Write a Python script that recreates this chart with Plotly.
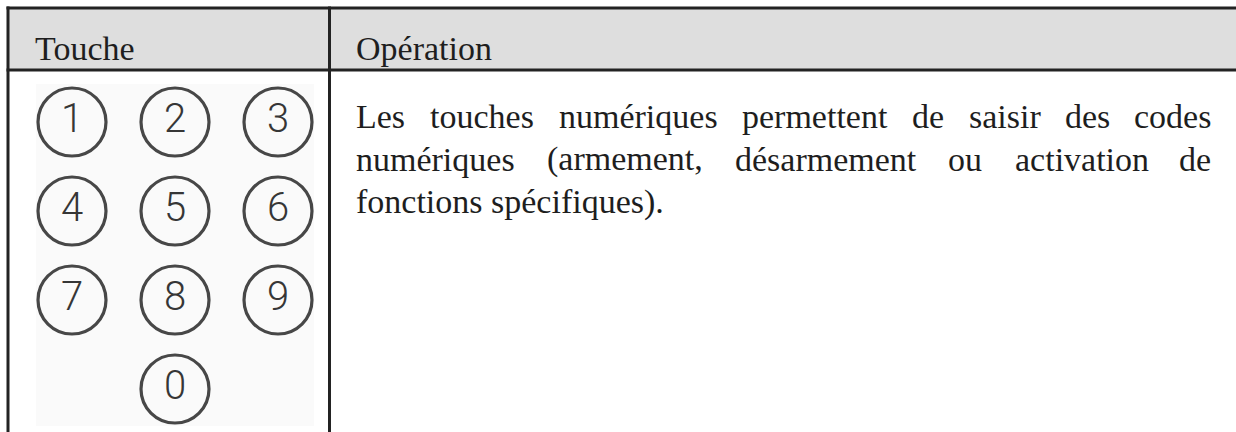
import plotly.graph_objects as go

# ---------------- data ----------------
headers = ["Touche", "Opération"]
keys = ["1", "2", "3", "4", "5", "6", "7", "8", "9", "0"]
key_rows = [0, 0, 0, 1, 1, 1, 2, 2, 2, 3]
key_cols = [0, 1, 2, 0, 1, 2, 0, 1, 2, 1]
body_lines = [
    "Les touches numériques permettent de saisir des codes",
    "numériques (armement, désarmement ou activation de",
    "fonctions spécifiques).",
]
justified = [True, True, False]

# ---------------- layout constants ----------------
W, H = 1236, 432
BORDER = "#232323"
HEAD_FILL = "#dedede"
TXT = "#1e1e1e"
SERIF = "Liberation Serif, Times New Roman, serif"
FS = 34
COL_X = 72
COL_DX = 103
ROW_Y = 122
ROW_DY = 89
TEXT_L = 355
TEXT_R = 1212
BASE0 = 128
LINE_DY = 42.5
HEAD_BASE = 60

# Times/Liberation Serif advance widths (1/1000 em)
TW = {
    'a': 444, 'b': 500, 'c': 444, 'd': 500, 'e': 444, 'f': 333, 'g': 500, 'h': 500,
    'i': 278, 'j': 278, 'k': 500, 'l': 278, 'm': 778, 'n': 500, 'o': 500, 'p': 500,
    'q': 500, 'r': 333, 's': 389, 't': 278, 'u': 500, 'v': 500, 'w': 722, 'x': 500,
    'y': 500, 'z': 444, 'é': 444, 'L': 611, 'T': 611, 'O': 722, '(': 333, ')': 333,
    ',': 250, '.': 250, ' ': 250,
}


def text_width(s, fs):
    return sum(TW.get(ch, 500) for ch in s) / 1000.0 * fs


def mid_from_base(base, fs):
    # centre of the text bbox relative to baseline (ascent .891, descent .216)
    return base - (0.891 - 0.216) / 2 * fs


fig = go.Figure()

shapes = []
# keypad image background (very light)
shapes.append(dict(type="rect", x0=36, x1=314, y0=84, y1=426, fillcolor="#fafafa",
                   line=dict(width=0), layer="below"))
# header band
shapes.append(dict(type="rect", x0=8, x1=W + 5, y0=8, y1=70, fillcolor=HEAD_FILL,
                   line=dict(width=0), layer="below"))
# borders
shapes.append(dict(type="line", x0=6.5, x1=W + 5, y0=8, y1=8, line=dict(color=BORDER, width=3)))
shapes.append(dict(type="line", x0=6.5, x1=W + 5, y0=70, y1=70, line=dict(color=BORDER, width=3)))
shapes.append(dict(type="line", x0=8, x1=8, y0=6.5, y1=H + 5, line=dict(color=BORDER, width=3)))
shapes.append(dict(type="line", x0=329.5, x1=329.5, y0=6.5, y1=H + 5, line=dict(color=BORDER, width=3)))

# keypad circles with digits
xs = [COL_X + COL_DX * c for c in key_cols]
ys = [ROW_Y + ROW_DY * r for r in key_rows]
fig.add_trace(go.Scatter(
    x=xs, y=ys, mode="markers+text", text=keys, textposition="middle center",
    textfont=dict(family="Roboto, Inter, sans-serif", size=40, color="#363636", weight=300),
    marker=dict(size=68, color="rgba(0,0,0,0)", line=dict(color="#474747", width=3.2)),
    hoverinfo="skip", showlegend=False, cliponaxis=False,
))

annotations = []
# headers
annotations.append(dict(x=34, y=mid_from_base(HEAD_BASE, FS), text=headers[0], xanchor="left",
                        yanchor="middle", showarrow=False, borderpad=0,
                        font=dict(family=SERIF, size=FS, color=TXT)))
annotations.append(dict(x=TEXT_L, y=mid_from_base(HEAD_BASE, FS), text=headers[1], xanchor="left",
                        yanchor="middle", showarrow=False, borderpad=0,
                        font=dict(family=SERIF, size=FS, color=TXT)))

# body text, justified word by word
for i, (line, just) in enumerate(zip(body_lines, justified)):
    ymid = mid_from_base(BASE0 + LINE_DY * i, FS)
    if not just:
        annotations.append(dict(x=TEXT_L, y=ymid, text=line, xanchor="left", yanchor="middle",
                                showarrow=False, borderpad=0,
                                font=dict(family=SERIF, size=FS, color=TXT)))
        continue
    words = line.split(" ")
    widths = [text_width(w, FS) for w in words]
    gap = (TEXT_R - TEXT_L - sum(widths)) / (len(words) - 1)
    x = TEXT_L
    for j, (w, wd) in enumerate(zip(words, widths)):
        if j == len(words) - 1:
            annotations.append(dict(x=TEXT_R, y=ymid, text=w, xanchor="right", yanchor="middle",
                                    showarrow=False, borderpad=0,
                                    font=dict(family=SERIF, size=FS, color=TXT)))
        else:
            annotations.append(dict(x=x, y=ymid, text=w, xanchor="left", yanchor="middle",
                                    showarrow=False, borderpad=0,
                                    font=dict(family=SERIF, size=FS, color=TXT)))
        x += wd + gap

fig.update_layout(
    width=W, height=H, margin=dict(l=0, r=0, t=0, b=0),
    paper_bgcolor="white", plot_bgcolor="white",
    xaxis=dict(range=[0, W], visible=False, fixedrange=True),
    yaxis=dict(range=[H, 0], visible=False, fixedrange=True),
    shapes=shapes, annotations=annotations,
)

fig.write_html("out.html", config={"displayModeBar": False},
               post_script="document.body.style.margin='0';document.body.style.overflow='hidden';")
